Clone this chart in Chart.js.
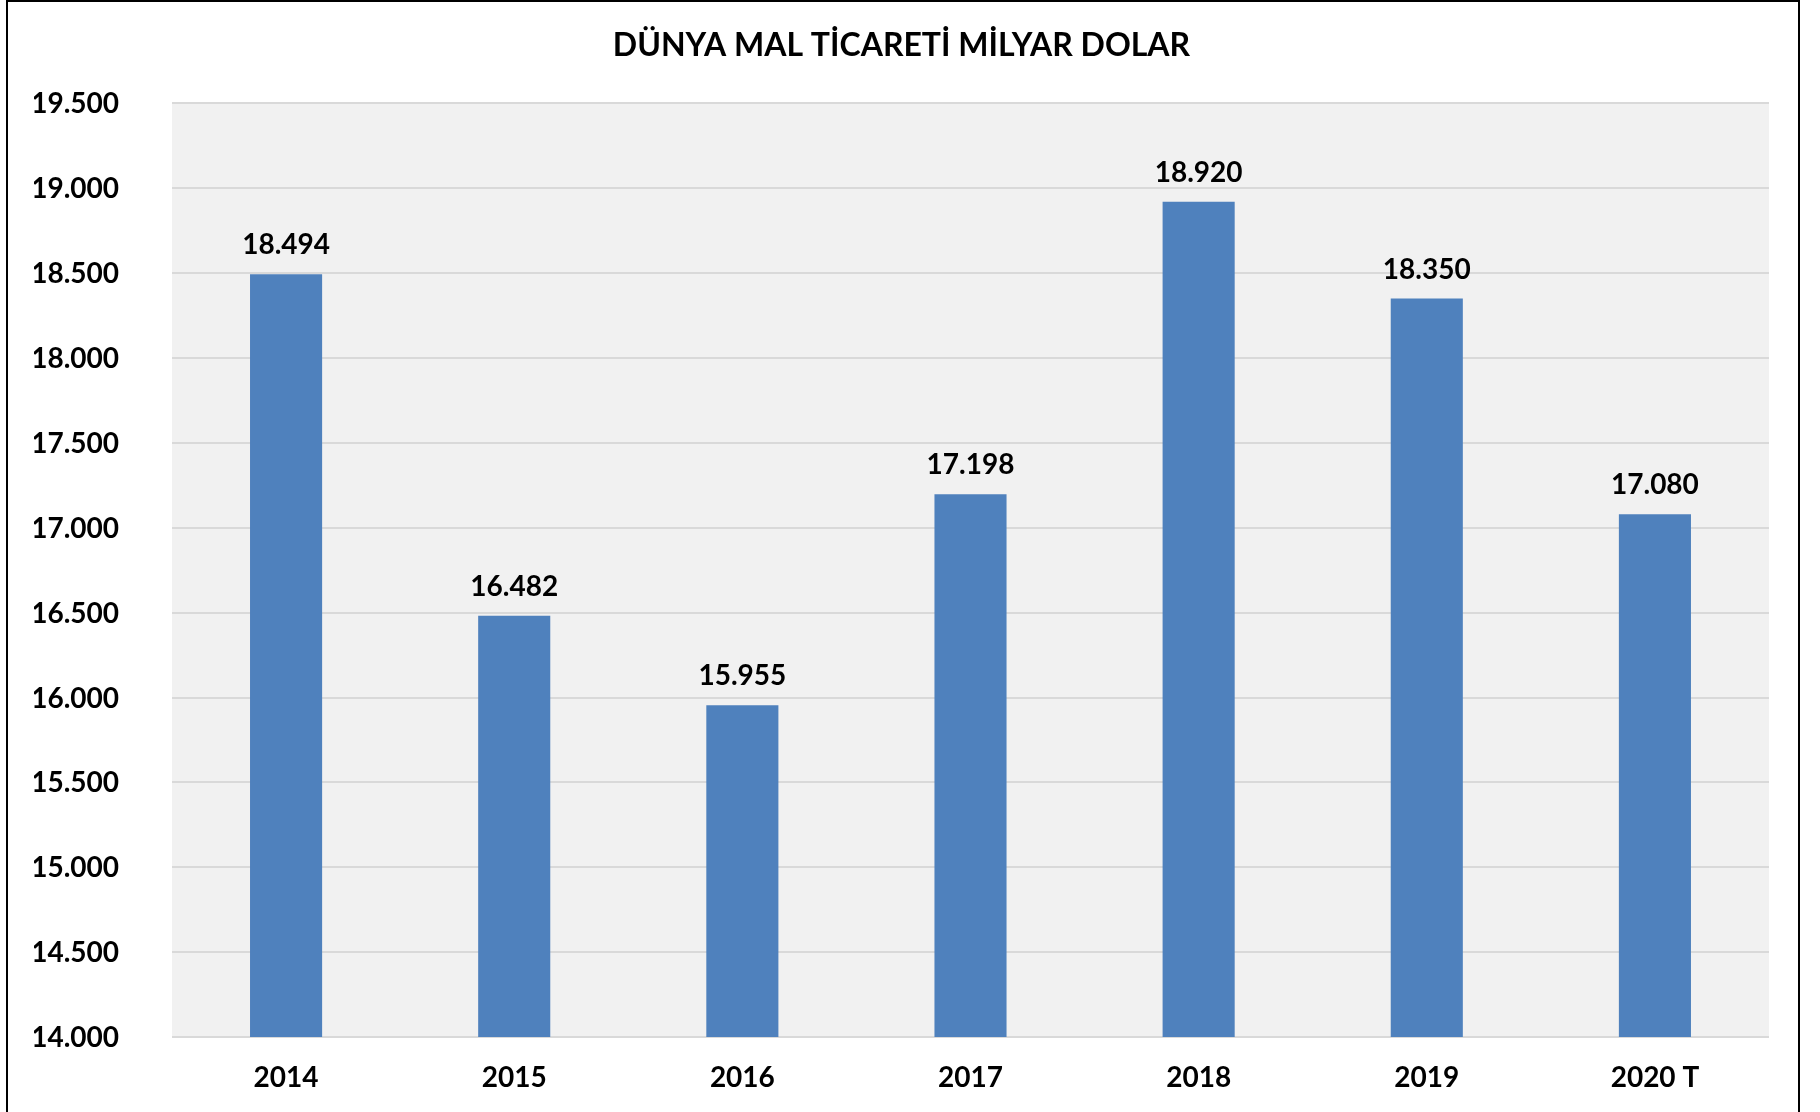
<!DOCTYPE html>
<html lang="tr">
<head>
<meta charset="utf-8">
<title>Dünya Mal Ticareti</title>
<script src="https://cdn.jsdelivr.net/npm/chart.js@4.4.1/dist/chart.umd.min.js"></script>
<style>
  html, body { margin: 0; padding: 0; background: #fff; overflow: hidden; }
  #frame { position: absolute; left: 6px; top: 0; width: 1794px; height: 1130px; border: 2px solid #000; box-sizing: border-box; pointer-events: none; }
  #chart { position: absolute; left: 0; top: 0; }
</style>
</head>
<body>
<canvas id="chart" width="1820" height="1112"></canvas>
<div id="frame"></div>
<script>
// veriler
const yillar = ['2014', '2015', '2016', '2017', '2018', '2019', '2020 T'];
const degerler = [18494, 16482, 15955, 17198, 18920, 18350, 17080];
const eksenMin = 14000;
const eksenMax = 19500;
const eksenAdim = 500;

const FONT = 'Lato, "Open Sans", sans-serif';
const BAR_RENK = '#4f81bd';

// 18494 -> "18.494"
const fmt = v => Math.round(v).toString().replace(/\B(?=(\d{3})+(?!\d))/g, '.');

const arkaPlan = {
  id: 'arkaPlan',
  beforeDraw(chart) {
    const { ctx, chartArea: a } = chart;
    ctx.save();
    ctx.fillStyle = '#f1f1f1';
    ctx.fillRect(a.left, a.top, a.right - a.left, a.bottom - a.top);
    ctx.restore();
  }
};

const degerEtiketi = {
  id: 'degerEtiketi',
  afterDatasetsDraw(chart) {
    const { ctx } = chart;
    const meta = chart.getDatasetMeta(0);
    ctx.save();
    ctx.font = 'bold 28px ' + FONT;
    ctx.fillStyle = '#000';
    ctx.textAlign = 'center';
    ctx.textBaseline = 'middle';
    meta.data.forEach((bar, i) => {
      ctx.fillText(fmt(degerler[i]), bar.x, bar.y - 29);
    });
    ctx.restore();
  }
};

new Chart(document.getElementById('chart'), {
  type: 'bar',
  data: {
    labels: yillar,
    datasets: [{
      data: degerler,
      backgroundColor: BAR_RENK,
      borderWidth: 0,
      categoryPercentage: 1,
      barPercentage: 0.316
    }]
  },
  options: {
    responsive: false,
    animation: false,
    layout: { padding: { left: 34, right: 51, top: 0, bottom: 0 } },
    plugins: {
      legend: { display: false },
      tooltip: { enabled: false },
      title: {
        display: true,
        text: 'DÜNYA MAL TİCARETİ MİLYAR DOLAR',
        color: '#000',
        font: { family: FONT, size: 32, weight: 'bold', lineHeight: 1.2 },
        padding: { top: 26, bottom: 39 }
      }
    },
    scales: {
      x: {
        grid: { display: false },
        border: { display: false },
        ticks: { color: '#000', font: { family: FONT, size: 28, weight: 'bold' }, padding: 16 },
        afterFit(s) { s.height = 75; }
      },
      y: {
        min: eksenMin,
        max: eksenMax,
        grid: { color: '#d9d9d9', lineWidth: 2, drawTicks: false },
        border: { display: false },
        ticks: {
          stepSize: eksenAdim,
          color: '#000',
          font: { family: FONT, size: 28, weight: 'bold' },
          padding: 53,
          labelOffset: 1,
          callback: v => fmt(v)
        },
        afterFit(s) { s.width = 138; }
      }
    }
  },
  plugins: [arkaPlan, degerEtiketi]
});
</script>
</body>
</html>
